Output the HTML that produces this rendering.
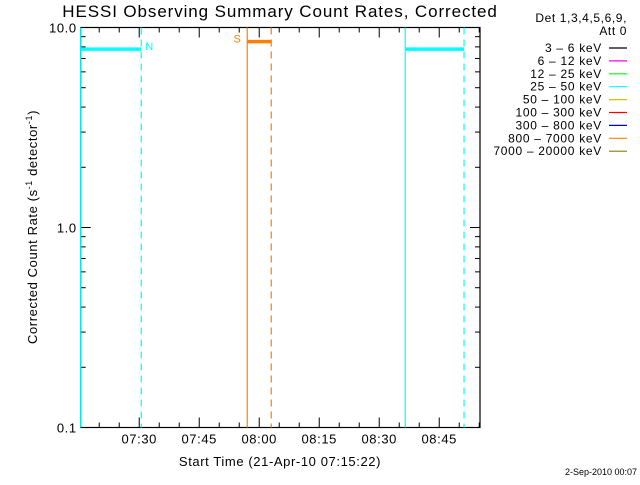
<!DOCTYPE html>
<html><head><meta charset="utf-8"><style>
html,body{margin:0;padding:0;background:#fff;}
svg text{font-family:"Liberation Sans",sans-serif;}
</style></head><body>
<svg id="chart" width="640" height="480" xmlns="http://www.w3.org/2000/svg">
<rect x="0" y="0" width="640" height="480" fill="#fff"/>
<text x="280" y="17" font-size="17" letter-spacing="0.9" text-anchor="middle" fill="#000">HESSI Observing Summary Count Rates, Corrected</text>
<g id="plot"></g>
<text transform="translate(37,227) rotate(-90)" font-size="13" letter-spacing="0.6" text-anchor="middle" fill="#000">Corrected Count Rate (s<tspan dy="-5" font-size="9">-1</tspan><tspan dy="5"> detector</tspan><tspan dy="-5" font-size="9">-1</tspan><tspan dy="5">)</tspan></text>
<text x="280" y="466" font-size="13" letter-spacing="0.6" text-anchor="middle" fill="#000">Start Time (21-Apr-10 07:15:22)</text>
<text x="627" y="22" font-size="12" letter-spacing="0.6" text-anchor="end">Det 1,3,4,5,6,9,</text>
<text x="627" y="35" font-size="12" letter-spacing="0.6" text-anchor="end">Att 0</text>
<g id="legend"></g>
<text x="637" y="475" font-size="9" text-anchor="end">2-Sep-2010 00:07</text>
</svg>
<script>
const X0=80.7, PXMIN=4, YTOP=27.5, PXDEC=200;
const startMin=7*60+15+22/60;
const tickLabels=["07:30","07:45","08:00","08:15","08:30","08:45"];
const tickMins=[450,465,480,495,510,525];
const yTicks=[10,1,0.1];
const yTickLabels=["10.0","1.0","0.1"];
const vlineMins=[435.37,450.5,477.0,483.0,516.5,531.2];
const vlineColors=["#00ffff","#00ffff","#ff8000","#ff8000","#00ffff","#00ffff"];
const vlineDash=[false,true,false,true,false,true];
const segStart=[435.37,477.0,516.5];
const segEnd=[450.5,483.0,531.2];
const segVal=[7.8,8.5,7.8];
const segColor=["#00ffff","#ff8000","#00ffff"];
const markLabels=["N","S"];
const markMins=[452.5,474.5];
const markVals=[7.8,8.5];
const markColors=["#00ffff","#ff8000"];
const legendLabels=["3 \u2013 6 keV","6 \u2013 12 keV","12 \u2013 25 keV","25 \u2013 50 keV","50 \u2013 100 keV","100 \u2013 300 keV","300 \u2013 800 keV","800 \u2013 7000 keV","7000 \u2013 20000 keV"];
const legendColors=["#000000","#ff00ff","#00ff00","#00ffff","#c8c800","#ff0000","#0000c8","#ff8000","#808000"];

const NS="http://www.w3.org/2000/svg";
const xS=m=>X0+(m-startMin)*PXMIN;
const yS=v=>YTOP+(1-Math.log10(v))*PXDEC;
const plot=document.getElementById('plot');
function mk(t,a){const e=document.createElementNS(NS,t);for(const k in a)e.setAttribute(k,a[k]);return e;}
const XR=480, YB=yS(0.1);
const frame=mk('rect',{x:X0,y:YTOP,width:XR-X0,height:YB-YTOP,fill:'none',stroke:'#000','stroke-width':1.2});


plot.appendChild(frame);
for(let m=440;m<=545;m+=5){const x=xS(m);if(x<X0||x>XR)continue;const major=(m%15===0);
 const l1=mk('line',{x1:x,x2:x,y1:YB,y2:YB-(major?10:5),stroke:'#000'});
 
 
 plot.appendChild(l1);
 const l2=mk('line',{x1:x,x2:x,y1:YTOP,y2:YTOP+(major?10:5),stroke:'#000'});
 
 
 plot.appendChild(l2);}
tickLabels.forEach((s,i)=>{const t=mk('text',{x:xS(tickMins[i]),y:YB+16,'font-size':13,'letter-spacing':0.6,'text-anchor':'middle'});t.textContent=s;
 
 
 plot.appendChild(t);});
for(let d=-1;d<1;d++){for(let k=1;k<10;k++){const v=k*Math.pow(10,d);const y=yS(v);const w=(k===1)?10:5;
 const a=mk('line',{x1:X0,x2:X0+w,y1:y,y2:y,stroke:'#000'});
 
 
 plot.appendChild(a);
 const b=mk('line',{x1:XR,x2:XR-w,y1:y,y2:y,stroke:'#000'});
 
 
 plot.appendChild(b);}}
yTicks.forEach((v,i)=>{const t=mk('text',{x:X0-4,y:yS(v)+5,'font-size':13,'letter-spacing':0.6,'text-anchor':'end'});t.textContent=yTickLabels[i];
 
 
 plot.appendChild(t);});
vlineMins.forEach((m,i)=>{const a={x1:xS(m),x2:xS(m),y1:YTOP,y2:YB,stroke:vlineColors[i],'stroke-width':1.2};if(vlineDash[i])a['stroke-dasharray']='7,5';
 const l=mk('line',a);
 
 
 plot.appendChild(l);});
segStart.forEach((s,i)=>{const l=mk('line',{x1:xS(s),x2:xS(segEnd[i]),y1:yS(segVal[i]),y2:yS(segVal[i]),stroke:segColor[i],'stroke-width':3.5});
 
 
 plot.appendChild(l);});
markLabels.forEach((s,i)=>{const t=mk('text',{x:xS(markMins[i]),y:yS(markVals[i])+1,'font-size':11,fill:markColors[i],'text-anchor':'middle'});t.textContent=s;
 
 
 plot.appendChild(t);});
const lg=document.getElementById('legend');
legendLabels.forEach((s,i)=>{const y=52+i*12.9;
 const t=mk('text',{x:602,y:y,'font-size':12,'letter-spacing':0.7,'text-anchor':'end'});t.textContent=s;
 
 
 lg.appendChild(t);
 const l=mk('line',{x1:609,x2:627,y1:y-4,y2:y-4,stroke:legendColors[i],'stroke-width':1.2});
 
 
 lg.appendChild(l);});
</script>
</body></html>
